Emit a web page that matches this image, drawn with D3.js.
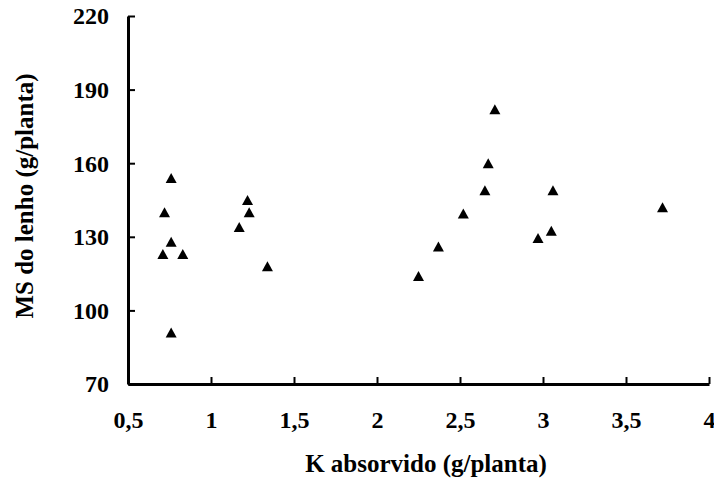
<!DOCTYPE html>
<html>
<head>
<meta charset="utf-8">
<script src="https://cdn.jsdelivr.net/npm/d3@7"></script>
<style>
  html, body { margin: 0; padding: 0; background: #fff; }
  svg { display: block; }
  text { font-family: "Liberation Serif", "Times New Roman", serif; font-weight: bold; fill: #000; }
</style>
</head>
<body>
<svg id="chart" width="714" height="479"></svg>
<script>
// K absorvido (g/planta) vs MS do lenho (g/planta)
const kAbsorvido = [0.72, 0.76, 0.76, 0.71, 0.83, 0.76, 1.22, 1.23, 1.17, 1.34,
                    2.25, 2.37, 2.52, 2.65, 2.67, 2.71, 3.06, 2.97, 3.05, 3.72];
const msLenho    = [140, 154, 128, 123, 123, 91, 145, 140, 134, 118,
                    114, 126, 139.5, 149, 160, 182, 149, 129.5, 132.5, 142];
const xTicks = [0.5, 1, 1.5, 2, 2.5, 3, 3.5, 4];
const yTicks = [70, 100, 130, 160, 190, 220];
const xTitle = "K absorvido (g/planta)";
const yTitle = "MS do lenho (g/planta)";

const W = 714, H = 479;
const m = { left: 128, right: 5, top: 16, bottom: 95 };

const svg = d3.select("#chart");
const x = d3.scaleLinear().domain([0.5, 4]).range([m.left, W - m.right]);
const y = d3.scaleLinear().domain([70, 220]).range([H - m.bottom, m.top]);

const fmt = d => String(d).replace(".", ",");

// X axis: ticks point up into the plot
const gx = svg.append("g")
  .attr("transform", `translate(0,${y(70)})`)
  .call(d3.axisBottom(x).tickValues(xTicks).tickSize(-7).tickFormat(fmt).tickSizeOuter(0));
gx.select(".domain").attr("stroke", "#000").attr("stroke-width", 3);
gx.selectAll(".tick line").attr("stroke", "#000").attr("stroke-width", 2);
gx.selectAll(".tick text")
  .attr("y", 0).attr("dy", 0)
  .attr("transform", "translate(0,44)")
  .attr("font-size", 24).attr("text-anchor", "middle");

// Y axis: ticks point right into the plot
const gy = svg.append("g")
  .attr("transform", `translate(${x(0.5)},0)`)
  .call(d3.axisLeft(y).tickValues(yTicks).tickSize(-7).tickFormat(d3.format("d")).tickSizeOuter(0));
gy.select(".domain").attr("stroke", "#000").attr("stroke-width", 3);
gy.selectAll(".tick line").attr("stroke", "#000").attr("stroke-width", 2);
gy.selectAll(".tick text")
  .attr("x", -19).attr("dy", "0.33em")
  .attr("font-size", 24).attr("text-anchor", "end");
svg.selectAll(".tick text").attr("fill", "#000").attr("font-family", null);

// Axis titles
svg.append("text")
  .attr("x", 426).attr("y", 472)
  .attr("text-anchor", "middle").attr("font-size", 25)
  .text(xTitle);
svg.append("text")
  .attr("transform", "translate(33,196) rotate(-90)")
  .attr("text-anchor", "middle").attr("font-size", 25)
  .text(yTitle);

// Triangle markers (bounding box centred on the data point)
const tw = 11, th = 10;
const tri = `M0,${-th / 2}L${tw / 2},${th / 2}L${-tw / 2},${th / 2}Z`;
svg.append("g").selectAll("path")
  .data(kAbsorvido.map((k, i) => [k, msLenho[i]]))
  .join("path")
  .attr("d", tri)
  .attr("transform", d => `translate(${x(d[0])},${y(d[1])})`)
  .attr("fill", "#000");
</script>
</body>
</html>
